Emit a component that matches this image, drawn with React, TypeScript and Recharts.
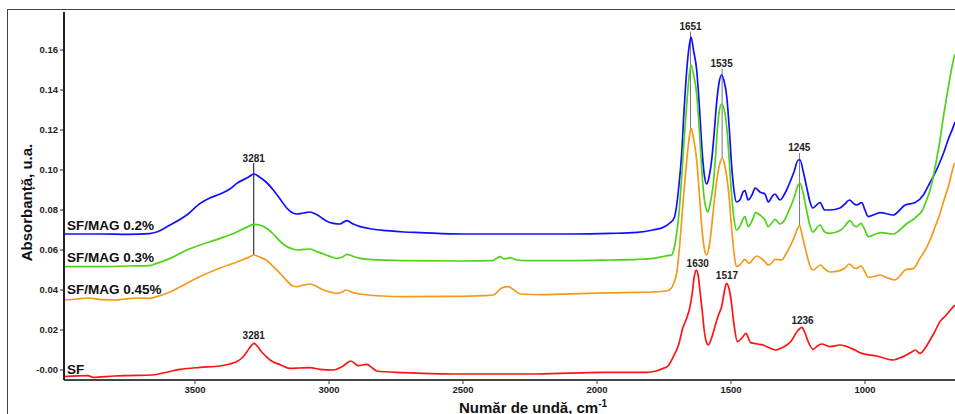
import { LineChart, Line, XAxis, YAxis, ReferenceLine, ReferenceDot } from "recharts"

// wavenumbers (cm-1) and absorbance
const sfWave = [3989, 3900, 3880, 3800, 3750, 3660, 3620, 3556, 3481, 3407, 3370, 3344, 3325, 3307, 3290, 3280, 3265, 3251, 3235, 3220, 3180, 3146, 3110, 3071, 3034, 2984, 2950, 2918, 2891, 2859, 2840, 2822, 2723, 2536, 2225, 1976, 1815, 1780, 1753, 1735, 1715, 1697, 1678, 1665, 1653, 1645, 1637, 1630, 1622, 1616, 1609, 1600, 1592, 1585, 1575, 1560, 1548, 1535, 1525, 1517, 1510, 1503, 1498, 1488, 1476, 1460, 1444, 1427, 1400, 1380, 1355, 1332, 1312, 1292, 1275, 1258, 1245, 1236, 1225, 1212, 1193, 1178, 1162, 1131, 1093, 1050, 1012, 956, 894, 875, 857, 820, 813, 795, 775, 757, 740, 720, 700, 670, 664]
const sfAbs = [-0.0033, -0.0028, -0.0037, -0.003, -0.0028, -0.0025, -0.0015, 0.0003, 0.0013, 0.002, 0.003, 0.0042, 0.006, 0.009, 0.0122, 0.0133, 0.0115, 0.009, 0.0068, 0.005, 0.0025, 0.0008, 0.001, 0.0012, 0.0003, 0.0, 0.0018, 0.0045, 0.0022, 0.0028, 0.0012, -0.0005, -0.0013, -0.002, -0.002, -0.0012, -0.0012, -0.0005, 0.0008, 0.002, 0.0067, 0.012, 0.0217, 0.026, 0.0317, 0.038, 0.0467, 0.05, 0.047, 0.04, 0.0317, 0.02, 0.014, 0.0125, 0.015, 0.0217, 0.027, 0.0317, 0.039, 0.0433, 0.042, 0.038, 0.0333, 0.022, 0.0142, 0.0158, 0.0183, 0.0137, 0.013, 0.0125, 0.011, 0.01, 0.011, 0.0125, 0.0145, 0.0183, 0.0205, 0.0213, 0.019, 0.0142, 0.0103, 0.012, 0.013, 0.0117, 0.0125, 0.0108, 0.0083, 0.007, 0.005, 0.0058, 0.0067, 0.0095, 0.01, 0.0083, 0.011, 0.015, 0.019, 0.0242, 0.027, 0.0317, 0.0325]

const mag045Wave = [3989, 3940, 3900, 3850, 3800, 3760, 3720, 3670, 3643, 3593, 3531, 3481, 3407, 3344, 3300, 3281, 3260, 3235, 3208, 3180, 3158, 3135, 3120, 3095, 3071, 3050, 3021, 2990, 2971, 2950, 2937, 2910, 2884, 2800, 2723, 2550, 2420, 2387, 2356, 2331, 2310, 2287, 2200, 2038, 1900, 1790, 1740, 1722, 1712, 1703, 1693, 1684, 1675, 1665, 1656, 1649, 1640, 1628, 1618, 1609, 1600, 1591, 1581, 1572, 1562, 1551, 1542, 1532, 1523, 1514, 1506, 1498, 1489, 1480, 1467, 1448, 1432, 1420, 1405, 1392, 1380, 1358, 1345, 1336, 1311, 1295, 1280, 1265, 1254, 1244, 1232, 1218, 1205, 1195, 1165, 1150, 1131, 1093, 1075, 1058, 1040, 1031, 1015, 1000, 988, 960, 944, 915, 888, 870, 850, 819, 795, 775, 757, 740, 720, 705, 689, 666, 664]
const mag045Abs = [0.035, 0.0355, 0.036, 0.0352, 0.035, 0.0355, 0.036, 0.0358, 0.0367, 0.039, 0.0433, 0.0467, 0.051, 0.054, 0.0563, 0.0575, 0.0565, 0.055, 0.0517, 0.048, 0.0447, 0.042, 0.0417, 0.0425, 0.043, 0.042, 0.04, 0.0388, 0.0383, 0.039, 0.04, 0.0387, 0.038, 0.037, 0.0367, 0.0368, 0.0372, 0.0375, 0.041, 0.0417, 0.04, 0.038, 0.0377, 0.0383, 0.0387, 0.039, 0.0395, 0.041, 0.044, 0.048, 0.06, 0.075, 0.09, 0.105, 0.116, 0.121, 0.116, 0.105, 0.088, 0.0717, 0.061, 0.0575, 0.062, 0.0717, 0.085, 0.0967, 0.103, 0.106, 0.102, 0.095, 0.085, 0.0717, 0.059, 0.0517, 0.0525, 0.0553, 0.0533, 0.055, 0.057, 0.0563, 0.055, 0.0525, 0.054, 0.0553, 0.055, 0.058, 0.0617, 0.066, 0.07, 0.0722, 0.066, 0.0583, 0.052, 0.05, 0.0525, 0.0505, 0.049, 0.0497, 0.051, 0.053, 0.051, 0.0508, 0.052, 0.049, 0.0463, 0.047, 0.0475, 0.046, 0.045, 0.047, 0.05, 0.0508, 0.0558, 0.06, 0.065, 0.071, 0.0783, 0.085, 0.0917, 0.103, 0.1035]

const mag03Wave = [3989, 3850, 3750, 3670, 3643, 3593, 3531, 3481, 3407, 3344, 3300, 3281, 3260, 3235, 3208, 3180, 3158, 3135, 3120, 3095, 3071, 3050, 3021, 2990, 2971, 2950, 2934, 2910, 2884, 2840, 2723, 2500, 2390, 2362, 2345, 2325, 2300, 2262, 2100, 1950, 1850, 1790, 1745, 1721, 1712, 1703, 1693, 1684, 1675, 1665, 1656, 1649, 1640, 1628, 1618, 1609, 1600, 1591, 1587, 1578, 1566, 1558, 1551, 1543, 1535, 1525, 1516, 1507, 1498, 1489, 1480, 1467, 1455, 1448, 1436, 1420, 1408, 1392, 1373, 1361, 1345, 1336, 1317, 1300, 1286, 1265, 1249, 1242, 1230, 1218, 1205, 1195, 1168, 1150, 1131, 1093, 1075, 1056, 1040, 1031, 1015, 1000, 988, 960, 938, 894, 870, 850, 807, 785, 770, 757, 745, 733, 720, 708, 695, 683, 670, 664]
const mag03Abs = [0.0517, 0.0517, 0.052, 0.0522, 0.0533, 0.0558, 0.06, 0.0625, 0.0658, 0.069, 0.0718, 0.0728, 0.0725, 0.071, 0.068, 0.064, 0.0617, 0.0605, 0.06, 0.0603, 0.0605, 0.0595, 0.058, 0.0565, 0.0558, 0.0565, 0.0578, 0.0568, 0.0558, 0.0552, 0.0547, 0.0545, 0.0547, 0.0567, 0.0555, 0.0562, 0.055, 0.0547, 0.0547, 0.055, 0.0553, 0.0558, 0.057, 0.0575, 0.061, 0.068, 0.08, 0.0967, 0.115, 0.133, 0.147, 0.1525, 0.148, 0.138, 0.12, 0.1, 0.086, 0.08, 0.079, 0.083, 0.093, 0.106, 0.12, 0.13, 0.133, 0.13, 0.1217, 0.106, 0.088, 0.076, 0.07, 0.0717, 0.0755, 0.0767, 0.0717, 0.075, 0.0787, 0.0775, 0.075, 0.0717, 0.074, 0.0753, 0.073, 0.075, 0.079, 0.086, 0.0925, 0.0933, 0.088, 0.08, 0.072, 0.069, 0.0725, 0.069, 0.0683, 0.0697, 0.072, 0.0747, 0.072, 0.0717, 0.0733, 0.07, 0.0667, 0.068, 0.0687, 0.068, 0.07, 0.0725, 0.0767, 0.08, 0.085, 0.09, 0.0967, 0.105, 0.115, 0.126, 0.1367, 0.146, 0.155, 0.158]

const mag02Wave = [3989, 3850, 3750, 3670, 3643, 3593, 3531, 3481, 3445, 3407, 3370, 3344, 3300, 3281, 3260, 3235, 3208, 3180, 3158, 3135, 3120, 3095, 3071, 3050, 3034, 3010, 2984, 2960, 2934, 2910, 2884, 2840, 2785, 2720, 2660, 2500, 2300, 2100, 1950, 1850, 1791, 1750, 1728, 1712, 1703, 1693, 1684, 1675, 1665, 1656, 1649, 1640, 1628, 1618, 1609, 1600, 1591, 1581, 1572, 1563, 1554, 1544, 1535, 1525, 1516, 1507, 1498, 1489, 1480, 1467, 1455, 1448, 1436, 1420, 1410, 1392, 1373, 1361, 1345, 1336, 1317, 1300, 1286, 1265, 1249, 1242, 1230, 1218, 1205, 1195, 1168, 1150, 1131, 1093, 1075, 1058, 1040, 1031, 1012, 1000, 988, 960, 944, 894, 870, 850, 813, 782, 760, 745, 720, 708, 690, 670, 664]
const mag02Abs = [0.068, 0.068, 0.0678, 0.0682, 0.069, 0.0725, 0.0775, 0.0833, 0.086, 0.088, 0.0905, 0.0933, 0.0965, 0.098, 0.0965, 0.094, 0.09, 0.085, 0.081, 0.0785, 0.078, 0.0785, 0.079, 0.078, 0.0767, 0.0745, 0.0733, 0.073, 0.0747, 0.073, 0.0717, 0.0705, 0.0697, 0.069, 0.0687, 0.068, 0.068, 0.068, 0.0683, 0.0688, 0.07, 0.0715, 0.0735, 0.076, 0.082, 0.094, 0.108, 0.13, 0.15, 0.162, 0.1665, 0.16, 0.15, 0.132, 0.112, 0.098, 0.093, 0.097, 0.105, 0.118, 0.133, 0.144, 0.1475, 0.144, 0.137, 0.122, 0.103, 0.09, 0.084, 0.085, 0.089, 0.0897, 0.085, 0.088, 0.091, 0.089, 0.088, 0.084, 0.087, 0.088, 0.085, 0.088, 0.092, 0.099, 0.105, 0.105, 0.099, 0.0917, 0.084, 0.081, 0.0837, 0.08, 0.08, 0.081, 0.083, 0.085, 0.083, 0.0825, 0.0837, 0.08, 0.0767, 0.078, 0.0787, 0.0775, 0.08, 0.0825, 0.0837, 0.0875, 0.093, 0.0967, 0.104, 0.108, 0.115, 0.1217, 0.124]

const xTicks = [3500, 3000, 2500, 2000, 1500, 1000]
const yTicks = [0, 0.02, 0.04, 0.06, 0.08, 0.1, 0.12, 0.14, 0.16]

// peak labels: wavenumber, label height
const peakLabels = [
  { text: "3281", x: 3281, y: 0.106 },
  { text: "1651", x: 1651, y: 0.172 },
  { text: "1535", x: 1535, y: 0.1533 },
  { text: "1245", x: 1245, y: 0.1112 },
  { text: "1630", x: 1624, y: 0.0533 },
  { text: "1517", x: 1515, y: 0.0473 },
  { text: "1236", x: 1233, y: 0.0247 },
  { text: "3281", x: 3281, y: 0.0172 },
]

// marker lines: wavenumber, top, bottom
const peakLines = [
  { x: 3281, top: 0.1035, bottom: 0.0575, color: "#111" },
  { x: 1651, top: 0.1692, bottom: 0.121, color: "#777" },
  { x: 1533, top: 0.1505, bottom: 0.106, color: "#777" },
  { x: 1244, top: 0.1085, bottom: 0.0717, color: "#777" },
]

const toPoints = (w: number[], a: number[]) => w.map((v, i) => ({ w: v, a: a[i] }))

const series = [
  { name: "SF/MAG 0.2%", data: toPoints(mag02Wave, mag02Abs), color: "#1010ff" },
  { name: "SF/MAG 0.3%", data: toPoints(mag03Wave, mag03Abs), color: "#4fd21a" },
  { name: "SF/MAG 0.45%", data: toPoints(mag045Wave, mag045Abs), color: "#f5991c" },
  { name: "SF", data: toPoints(sfWave, sfAbs), color: "#ff1414" },
]

const font = "Arial, 'Liberation Sans', sans-serif"
const tickStyle = { fontSize: 9.5, fontWeight: 700, fill: "#222", fontFamily: font }

export default function App() {
  return (
    <div style={{ position: "absolute", left: 0, top: 0, width: 955, height: 414, background: "#fff", overflow: "hidden" }}>
      <div style={{ position: "absolute", left: 7, top: 9, width: 1000, height: 500, border: "1px solid #444", boxSizing: "border-box" }} />
      <LineChart width={955} height={414} margin={{ top: 12, right: 0, bottom: 0, left: 0 }} style={{ position: "absolute", left: 0, top: 0 }}>
        <XAxis
          type="number"
          dataKey="w"
          domain={[664, 3989]}
          reversed
          allowDataOverflow
          ticks={xTicks}
          height={34}
          tick={tickStyle}
          tickSize={4}
          axisLine={{ stroke: "#444", strokeWidth: 2 }}
          tickLine={{ stroke: "#444" }}
        />
        <YAxis
          type="number"
          domain={[-0.005, 0.179]}
          allowDataOverflow
          ticks={yTicks}
          width={64}
          tick={tickStyle}
          tickSize={4}
          tickFormatter={(v: number) => (v === 0 ? "-0.00" : v.toFixed(2))}
          axisLine={{ stroke: "#222", strokeWidth: 2 }}
          tickLine={{ stroke: "#222" }}
        />
        {peakLines.map((p, i) => (
          <ReferenceLine key={"l" + i} segment={[{ x: p.x, y: p.top }, { x: p.x, y: p.bottom }]} stroke={p.color} strokeWidth={1} />
        ))}
        {series.map((s) => (
          <Line
            key={s.name}
            data={s.data}
            dataKey="a"
            type="monotone"
            stroke={s.color}
            strokeWidth={1.7}
            dot={false}
            isAnimationActive={false}
          />
        ))}
        {peakLabels.map((p, i) => (
          <ReferenceDot
            key={"d" + i}
            x={p.x}
            y={p.y}
            r={0}
            fill="none"
            stroke="none"
            label={{ value: p.text, position: "center", fontSize: 10, fontWeight: 700, fill: "#222", fontFamily: font }}
          />
        ))}
      </LineChart>
      <svg width={955} height={414} style={{ position: "absolute", left: 0, top: 0, pointerEvents: "none" }} fontFamily={font} fontWeight={700} fill="#111">
        {series.map((s, i) => (
          <text key={s.name} x={67} y={[229.5, 262, 294, 373.5][i]} fontSize={13.5}>
            {s.name}
          </text>
        ))}
        <text transform="translate(31.5,202.5) rotate(-90)" textAnchor="middle" fontSize={15}>
          Absorbanță, u.a.
        </text>
        <text x={459} y={412.5} fontSize={15}>
          Număr de undă, cm<tspan dy={-6} fontSize={10}>-1</tspan>
        </text>
      </svg>
    </div>
  )
}
